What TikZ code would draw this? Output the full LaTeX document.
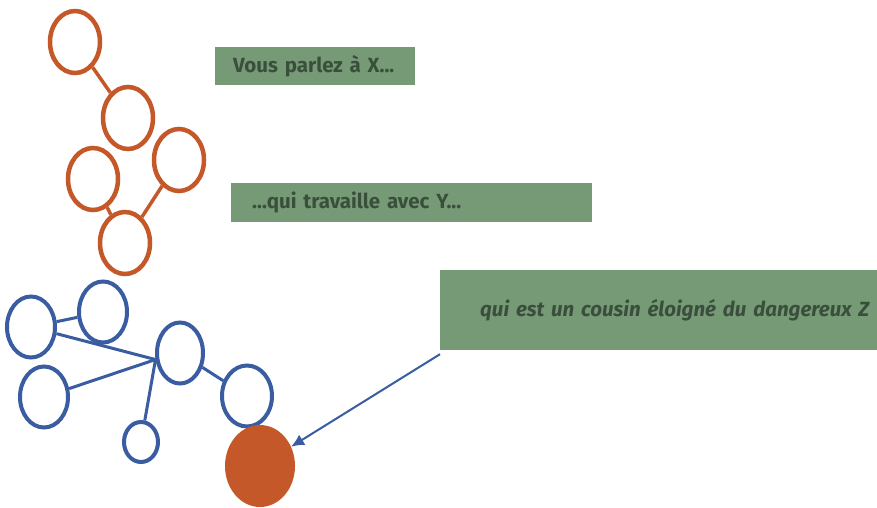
\documentclass[tikz,border=0pt]{standalone}
\usepackage{fontspec}
\setmainfont{Fira Sans}
\usetikzlibrary{shapes.geometric,arrows.meta}
\definecolor{orng}{RGB}{196,88,40}
\definecolor{blu}{RGB}{58,92,160}
\definecolor{grn}{RGB}{118,154,118}
\definecolor{grntxt}{RGB}{58,78,60}
\begin{document}
\begin{tikzpicture}[x=1pt,y=-1pt,
  ocirc/.style={ellipse,draw=orng,line width=4.5pt,inner sep=0pt,minimum width=50pt,minimum height=62pt},
  bcirc/.style={ellipse,draw=blu,line width=4pt,inner sep=0pt,minimum width=48pt,minimum height=61pt},
  olink/.style={draw=orng,line width=3.5pt},
  blink/.style={draw=blu,line width=3pt},
  gbox/.style={rectangle,fill=grn,anchor=west,inner xsep=0pt,inner ysep=0pt,align=left,
    text=grntxt,font=\bfseries\fontsize{20.5}{24}\selectfont},
]
\useasboundingbox (0,0) rectangle (877,508);
\fill[white] (0,0) rectangle (877,508);
% orange network
\node[ocirc] (o1) at (75,42) {};
\node[ocirc] (o2) at (128,118) {};
\node[ocirc] (o3) at (93,179) {};
\node[ocirc] (o4) at (179,160) {};
\node[ocirc] (o5) at (125,243) {};
\draw[olink] (o1) -- (o2);
\draw[olink] (o3) -- (o5);
\draw[olink] (o4) -- (o5);
% blue network
\node[bcirc] (b1) at (31,327) {};
\node[bcirc] (b2) at (103,312) {};
\node[bcirc] (b3) at (44,397) {};
\node[bcirc,minimum width=46pt] (b4) at (180,353) {};
\node[bcirc,minimum width=50pt] (b5) at (247,396) {};
\node[bcirc,minimum width=34pt,minimum height=40pt] (b6) at (141,442) {};
\draw[blink] (b1) -- (b2);
\draw[blink] (b1) -- (b4.195);
\draw[blink] (b3) -- (b4.195);
\draw[blink] (b6) -- (b4.195);
\draw[blink] (b4) -- (b5);
% target
\node[ellipse,fill=orng,inner sep=0pt,minimum width=70pt,minimum height=82pt] (z) at (260,466) {};
% boxes
\node[gbox,minimum height=38pt,text width=200pt] (t1) at (215,66) {\hspace*{18pt}Vous parlez à X...};
\node[gbox,minimum height=39pt,text width=361pt] (t2) at (231,202.5) {\hspace*{21pt}...qui travaille avec Y...};
\node[gbox,minimum height=80pt,text width=437pt,font=\bfseries\itshape\fontsize{20.5}{24}\selectfont] (t3) at (440,310) {\hspace*{40pt}qui est un cousin éloigné du dangereux Z};
% arrow
\draw[blu,line width=2pt,-{Latex[length=13pt,width=12pt]}] ([yshift=-4pt]t3.south west) -- (z);
\end{tikzpicture}
\end{document}
